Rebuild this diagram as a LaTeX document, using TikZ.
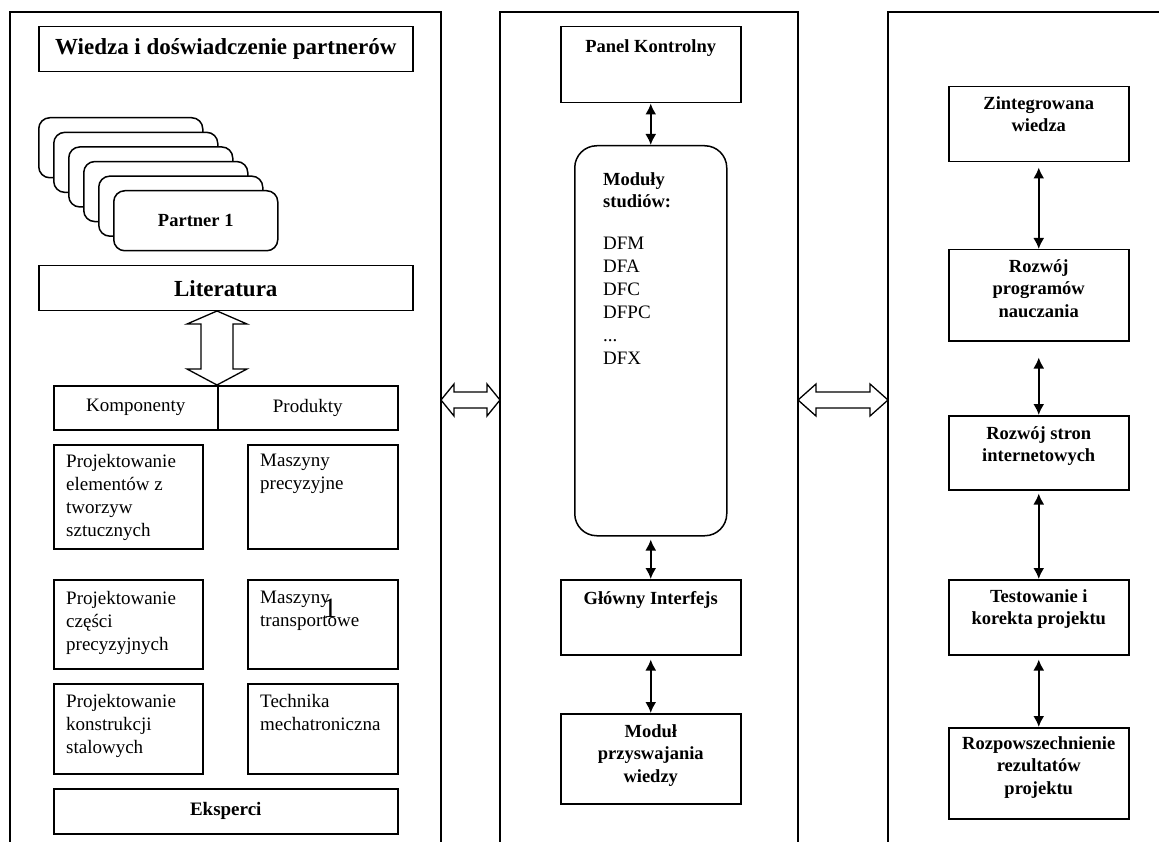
\documentclass[tikz,border=0pt]{standalone}
\usepackage{fontspec}
\setmainfont{Liberation Serif}
\usetikzlibrary{arrows.meta,calc}

\begin{document}
\begin{tikzpicture}[x=1pt,y=-1pt,
  panel/.style={line width=1.5pt},
  box/.style={draw, line width=1.5pt, fill=white, inner sep=0pt, anchor=north west},
  body/.style={font=\fontsize{19}{23}\selectfont, inner sep=0pt, align=left, anchor=north west, execute at begin node=\strut},
  lbl/.style={font=\bfseries\fontsize{18.5}{22.5}\selectfont, inner sep=0pt, align=center, anchor=north, execute at begin node=\strut},
  hdr/.style={font=\bfseries\fontsize{23}{27}\selectfont},
  reg/.style={font=\fontsize{19}{23}\selectfont},
  dlink/.style={line width=1.8pt, {Latex[length=11pt,width=11pt]}-{Latex[length=11pt,width=11pt]}},
  hollow/.style={draw, line width=1.3pt, fill=white, line join=miter}
]
\useasboundingbox (0,0) rectangle (1159,842);

% three panels
\draw[panel] (10,842) -- (10,12) -- (441,12) -- (441,842);
\draw[panel] (500,842) -- (500,12) -- (798,12) -- (798,842);
\draw[panel] (888,842) -- (888,12) -- (1159,12);

% ---------- left panel ----------
\node[box, hdr, minimum width=374, minimum height=45] (title) at (38,26) {Wiedza i doświadczenie partnerów};

\foreach \i in {0,...,4}
  \node[box, rounded corners=11pt, minimum width=164, minimum height=60] (card\i) at ({38+15*\i},{117+14.6*\i}) {};
\node[box, rounded corners=11pt, minimum width=164, minimum height=60, font=\bfseries\fontsize{18.5}{22}\selectfont] (card5) at (113,190) {Partner 1};

\node[box, hdr, minimum width=374, minimum height=45] (lit) at (38,265) {Literatura};

\node[box, reg, minimum width=164, minimum height=44] (komp) at (53,385) {Komponenty};
\node[box, reg, minimum width=180, minimum height=44] (prod) at (217,385) {Produkty};

% hollow double arrow between Literatura and the table
\draw[hollow] (217,311) -- (247,324) -- (233,324) -- (233,369) -- (247,369) -- (217,385)
  -- (187,369) -- (201,369) -- (201,324) -- (187,324) -- cycle;

\node[box, minimum width=149, minimum height=104] (c1) at (53,444) {};
\node[box, minimum width=150, minimum height=104] (p1) at (247,444) {};
\node[box, minimum width=149, minimum height=89] (c2) at (53,579) {};
\node[box, minimum width=150, minimum height=89] (p2) at (247,579) {};
\node[box, minimum width=149, minimum height=90] (c3) at (53,683) {};
\node[box, minimum width=150, minimum height=90] (p3) at (247,683) {};

\node[body] at (66,454) {Projektowanie\\elementów z\\tworzyw\\sztucznych};
\node[body] at (260,454) {Maszyny\\precyzyjne};
\node[body] at (66,591) {Projektowanie\\części\\precyzyjnych};
\node[body] at (260,591) {Maszyny\\transportowe};
\node[body] at (66,694) {Projektowanie\\konstrukcji\\stalowych};
\node[body] at (260,694) {Technika\\mechatroniczna};
\node[font=\fontsize{28}{30}\selectfont, inner sep=0pt, anchor=base] (stray) at (330,617) {1};

\node[box, font=\bfseries\fontsize{19}{22}\selectfont, minimum width=344, minimum height=45] (eksp) at (53,788) {Eksperci};

% hollow arrows between panels
\draw[hollow] (441,400) -- (454,384) -- (454,392) -- (487,392) -- (487,384) -- (500,400)
  -- (487,416) -- (487,408) -- (454,408) -- (454,416) -- cycle;
\draw[hollow] (798,400) -- (816,384) -- (816,392) -- (870,392) -- (870,384) -- (888,400)
  -- (870,416) -- (870,408) -- (816,408) -- (816,416) -- cycle;

% ---------- middle panel ----------
\node[box, minimum width=180, minimum height=76] (pk) at (560,26) {};
\node[lbl] at ($(pk.north)+(0,11)$) {Panel Kontrolny};

\node[box, rounded corners=22pt, minimum width=152, minimum height=390] (mod) at (574,145) {};
\node[lbl, anchor=north west, align=left, font=\bfseries\fontsize{18.5}{22}\selectfont] at (603,172.6) {Moduły\\studiów:};
\node[body] at (603,237) {DFM\\DFA\\DFC\\DFPC\\...\\DFX};

\node[box, minimum width=180, minimum height=75] (gi) at (560,579) {};
\node[lbl] at ($(gi.north)+(0,10)$) {Główny Interfejs};

\node[box, minimum width=180, minimum height=90] (mp) at (560,713) {};
\node[lbl] at ($(mp.north)+(0,11)$) {Moduł\\przyswajania\\wiedzy};

\draw[dlink] (pk) -- (mod);
\draw[dlink, shorten <=3pt] (mod) -- (gi);
\draw[dlink, shorten <=4pt] (gi) -- (mp);

% ---------- right panel ----------
\node[box, minimum width=180, minimum height=75] (zw) at (948,86) {};
\node[lbl] at ($(zw.north)+(0,10)$) {Zintegrowana\\wiedza};
\node[box, minimum width=180, minimum height=91] (rp) at (948,249) {};
\node[lbl] at ($(rp.north)+(0,10)$) {Rozwój\\programów\\nauczania};
\node[box, minimum width=180, minimum height=74] (rs) at (948,415) {};
\node[lbl] at ($(rs.north)+(0,11)$) {Rozwój stron\\internetowych};
\node[box, minimum width=180, minimum height=75] (tk) at (948,579) {};
\node[lbl] at ($(tk.north)+(0,10)$) {Testowanie i\\korekta projektu};
\node[box, minimum width=180, minimum height=91] (rr) at (948,727) {};
\node[lbl] at ($(rr.north)+(0,9)$) {Rozpowszechnienie\\rezultatów\\projektu};

\draw[dlink, shorten <=5pt] (zw) -- (rp);
\draw[dlink, shorten <=16pt] (rp) -- (rs);
\draw[dlink, shorten <=3pt] (rs) -- (tk);
\draw[dlink, shorten <=4pt] (tk) -- (rr);
\end{tikzpicture}
\end{document}
